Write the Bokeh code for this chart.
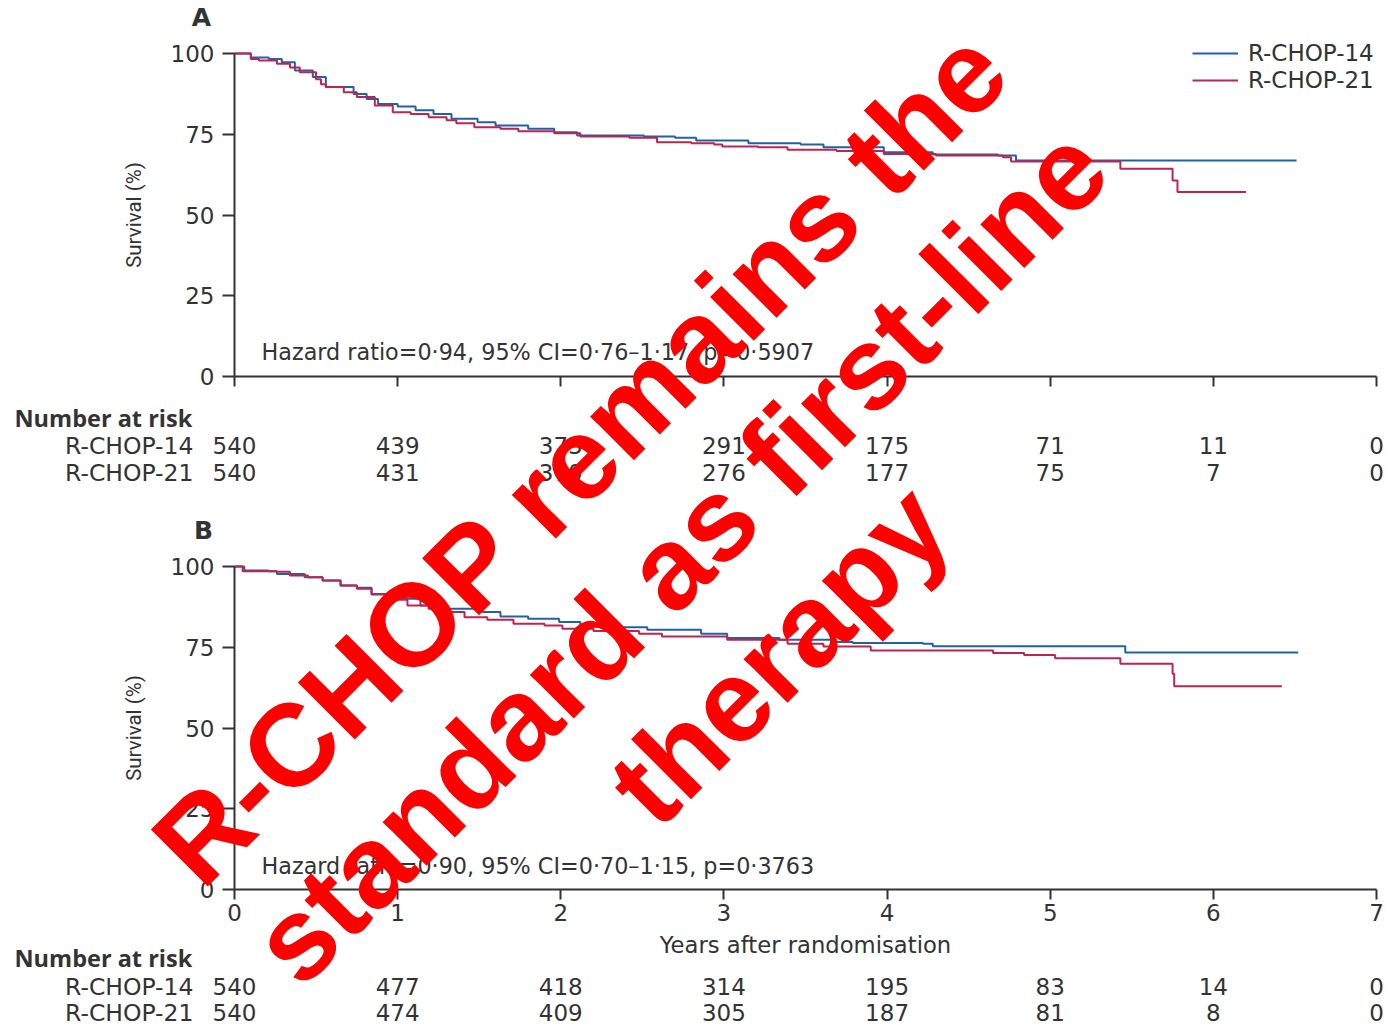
import math
from bokeh.plotting import figure
from bokeh.models import (Range1d, LinearAxis, FixedTicker, ColumnDataSource,
                          Label, Legend, LegendItem)
from bokeh.core.properties import value
from bokeh.embed import file_html
from bokeh.resources import INLINE

# ---------------- data ----------------
arms = ["R-CHOP-14", "R-CHOP-21"]
years = [0, 1, 2, 3, 4, 5, 6, 7]
year_labels = ["0", "1", "2", "3", "4", "5", "6", "7"]
surv_ticks = [0, 25, 50, 75, 100]

# Panel A (step curves: event time in years, survival % after the step)
a14_t = [0, 0.10, 0.21, 0.29, 0.37, 0.48, 0.56, 0.73, 0.81, 0.88, 1.00, 1.11, 1.22, 1.33,
         1.49, 1.60, 1.80, 1.96, 2.10, 2.51, 2.70, 2.83, 3.15, 3.47, 3.61, 3.98, 4.28,
         4.68, 4.79, 6.51]
a14_s = [100, 98.8, 98.3, 97.3, 94.7, 92.7, 89.6, 87.5, 85.9, 84.4, 83.6, 82.4, 81.3, 79.8,
         78.7, 77.7, 76.7, 75.6, 74.6, 74.3, 73.9, 73.1, 72.2, 71.8, 71.0, 69.4, 68.7,
         68.4, 66.9, 66.9]
a21_t = [0, 0.10, 0.15, 0.26, 0.34, 0.40, 0.50, 0.53, 0.56, 0.67, 0.75, 0.86, 0.97, 1.08,
         1.19, 1.30, 1.36, 1.47, 1.63, 1.74, 1.96, 2.12, 2.42, 2.59, 2.80, 2.94, 2.99,
         3.21, 3.39, 3.69, 3.98, 4.30, 4.71, 4.76, 5.43, 5.75, 5.78, 6.20]
a21_s = [100, 98.3, 97.8, 96.8, 95.7, 94.2, 92.0, 90.5, 89.6, 88.0, 86.5, 83.9, 81.8, 81.3,
         80.3, 79.3, 78.4, 77.2, 76.7, 75.9, 75.3, 74.3, 73.9, 72.5, 72.2, 71.8, 71.2,
         71.0, 70.2, 69.8, 68.9, 68.4, 67.9, 66.6, 64.3, 60.7, 57.1, 57.1]

# Panel B
b14_t = [0, 0.06, 0.21, 0.26, 0.43, 0.54, 0.65, 0.75, 0.84, 0.97, 1.14, 1.30, 1.52, 1.63,
         1.80, 1.99, 2.12, 2.29, 2.53, 2.86, 3.02, 3.34, 3.66, 3.79, 4.22, 4.28, 5.46, 6.52]
b14_s = [100, 98.8, 98.5, 97.7, 96.7, 95.7, 94.1, 93.4, 91.5, 90.0, 87.9, 86.9, 85.9, 84.5,
         83.8, 82.8, 82.0, 81.2, 80.4, 79.2, 77.9, 77.3, 76.6, 76.3, 76.1, 75.3, 73.4, 73.4]
b21_t = [0, 0.05, 0.26, 0.34, 0.45, 0.54, 0.65, 0.75, 0.84, 0.95, 1.06, 1.19, 1.30, 1.41,
         1.55, 1.71, 1.90, 2.01, 2.20, 2.48, 2.62, 3.02, 3.39, 3.61, 3.90, 4.65, 4.84, 5.03,
         5.43, 5.75, 5.76, 6.42]
b21_s = [100, 98.5, 98.4, 97.2, 96.7, 95.7, 94.1, 93.1, 91.3, 89.7, 87.9, 86.9, 85.9, 84.3,
         83.5, 82.3, 81.7, 80.7, 80.0, 79.2, 78.3, 77.3, 76.1, 75.2, 74.0, 73.2, 72.6, 71.6,
         69.9, 66.8, 62.9, 62.9]

# Number at risk
risk_a14 = [540, 439, 373, 291, 175, 71, 11, 0]
risk_a21 = [540, 431, 370, 276, 177, 75, 7, 0]
risk_b14 = [540, 477, 418, 314, 195, 83, 14, 0]
risk_b21 = [540, 474, 409, 305, 187, 81, 8, 0]

hr_a = "Hazard ratio=0·94, 95% CI=0·76–1·17, p=0·5907"
hr_b = "Hazard ratio=0·90, 95% CI=0·70–1·15, p=0·3763"
overlay_lines = ["R-CHOP remains the", "standard as first-line", "therapy"]

# ---------------- layout (pixels) ----------------
W, H = 1386, 1036
X0, X7 = 234, 1376
A_TOP, A_BOT = 53, 376
B_TOP, B_BOT = 566, 889
PPY = (X7 - X0) / 7.0
PPU = (A_BOT - A_TOP) / 100.0

def xd(px):
    return (px - X0) / PPY

def ya(py):
    return (A_BOT - py) / PPU

def yb(py):
    return (B_BOT - py) / PPU

BLUE = "#1f62ab"
RED = "#bf2350"
TXT = "#333333"
FONT = "DejaVu Sans"
FS = "23px"

p = figure(width=W, height=H, output_backend="svg", toolbar_location=None,
           x_range=Range1d(xd(0), xd(W)), y_range=Range1d(ya(H), ya(0)),
           x_axis_location=None, y_axis_location=None, min_border=0,
           outline_line_color=None, background_fill_color="white",
           border_fill_color="white")
p.extra_y_ranges = {"B": Range1d(yb(H), yb(0))}
p.grid.visible = False


def make_axis(dim, rng, labels=True, label=None):
    kw = {}
    if rng != "default":
        kw["y_range_name"] = rng
    if dim == "x":
        ax = LinearAxis(fixed_location=0, bounds=(0, 7), ticker=FixedTicker(ticks=years), **kw)
        ax.major_tick_out = 10
        if labels:
            ax.major_label_overrides = {y: l for y, l in zip(years, year_labels)}
        else:
            ax.major_label_overrides = {y: "" for y in years}
        ax.major_label_standoff = 4
        ax.axis_label_standoff = 8
    else:
        ax = LinearAxis(fixed_location=0, bounds=(0, 100), ticker=FixedTicker(ticks=surv_ticks), **kw)
        ax.major_tick_out = 12
        ax.major_label_standoff = 8
        ax.axis_label_standoff = 22
    ax.major_tick_in = 0
    ax.axis_line_color = TXT
    ax.axis_line_width = 2
    ax.major_tick_line_color = TXT
    ax.major_tick_line_width = 2
    ax.minor_tick_line_color = None
    ax.major_label_text_font = FONT
    ax.major_label_text_font_size = FS
    ax.major_label_text_color = TXT
    if label:
        ax.axis_label = label
        ax.axis_label_text_font_style = "normal"
        ax.axis_label_text_color = TXT
        if dim == "y":
            ax.axis_label_text_font = "Roboto"
            ax.axis_label_text_font_size = "20.5px"
        else:
            ax.axis_label_text_font = FONT
            ax.axis_label_text_font_size = "22.7px"
    return ax

p.add_layout(make_axis("y", "default", label="Survival (%)"), "left")
p.add_layout(make_axis("x", "default", labels=False), "below")
p.add_layout(make_axis("y", "B", label="Survival (%)"), "left")
p.add_layout(make_axis("x", "B", labels=True, label="Years after randomisation"), "below")

# curves
rA14 = p.step(a14_t, a14_s, mode="after", line_color=BLUE, line_width=2)
rA21 = p.step(a21_t, a21_s, mode="after", line_color=RED, line_width=2)
p.step(b14_t, b14_s, mode="after", line_color=BLUE, line_width=2, y_range_name="B")
p.step(b21_t, b21_s, mode="after", line_color=RED, line_width=2, y_range_name="B")

legend = Legend(items=[LegendItem(label=arms[0], renderers=[rA14]),
                       LegendItem(label=arms[1], renderers=[rA21])],
                location=(1192, H - 41 - 52), padding=0, margin=0, spacing=1,
                glyph_width=46, glyph_height=20, label_height=20, label_standoff=10,
                border_line_color=None, background_fill_alpha=0,
                label_text_font=FONT, label_text_font_size=FS, label_text_color=TXT)
p.add_layout(legend)


def txt(x, y, text, rng="default", align="left", size=FS, font=FONT, style="normal"):
    src = ColumnDataSource(dict(x=x, y=y, text=text))
    kw = {}
    if rng != "default":
        kw["y_range_name"] = rng
    p.text(x="x", y="y", text="text", source=src, text_align=align, text_baseline="middle",
           text_font=value(font), text_font_size=value(size), text_font_style=style,
           text_color=TXT, **kw)

# panel letters
txt([xd(201)], [ya(17)], ["A"], align="center", size="25px", style="bold")
txt([xd(203)], [yb(530)], ["B"], rng="B", align="center", size="25px", style="bold")

# hazard ratio annotations
txt([xd(261)], [ya(351)], [hr_a], size="22.3px")
txt([xd(261)], [yb(865)], [hr_b], rng="B", size="22.3px")

# number at risk tables
for rng, conv, head_py, r1_py, r2_py, r14, r21 in [
        ("default", ya, 417, 445, 472, risk_a14, risk_a21),
        ("B", yb, 957, 986, 1012, risk_b14, risk_b21)]:
    txt([xd(14)], [conv(head_py)], ["Number at risk"], rng=rng, font="Open Sans",
        size="23.5px", style="bold")
    txt([xd(193), xd(193)], [conv(r1_py), conv(r2_py)], arms, rng=rng, align="right",
        size="23.5px")
    txt(years + years, [conv(r1_py)] * 8 + [conv(r2_py)] * 8,
        [str(v) for v in r14] + [str(v) for v in r21], rng=rng, align="center")

# overlay
ang = math.radians(45)
cx, cy = 679, 555
spacing = 140
for i, line in enumerate(overlay_lines):
    k = i - 1
    px = cx + k * spacing * math.sin(ang)
    py = cy + k * spacing * math.cos(ang)
    p.add_layout(Label(x=xd(px), y=ya(py), text=line, angle=ang, text_align="center",
                       text_baseline="middle", text_font="Liberation Sans",
                       text_font_style="bold", text_font_size="117px",
                       text_color="#ff0000"))

open("out.html", "w").write(file_html(p, INLINE))
